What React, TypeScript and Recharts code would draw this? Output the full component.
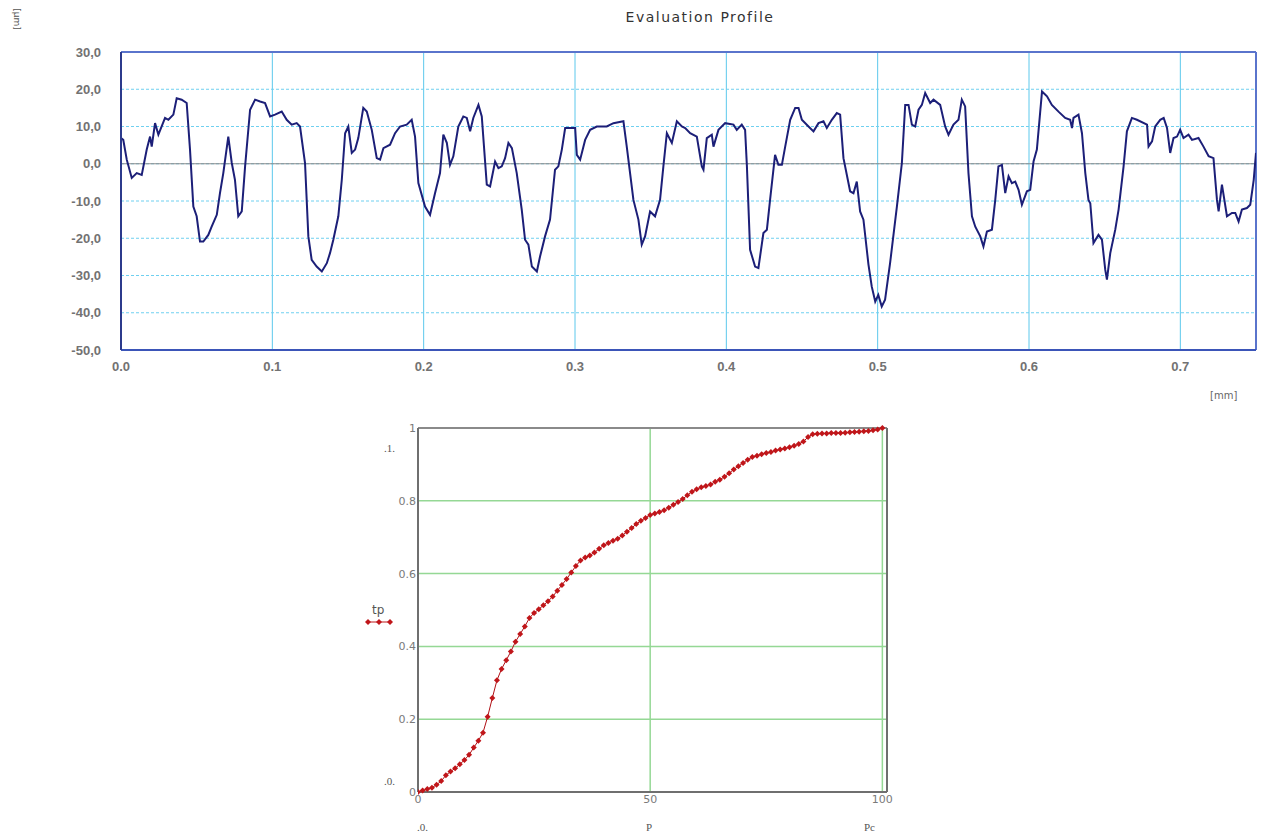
import { LineChart, Line, XAxis, YAxis, CartesianGrid, ReferenceLine } from "recharts";

// evaluation profile, x in mm, z in µm
const profileX = [
  0.0, 0.0015, 0.0038, 0.0071, 0.0104, 0.0137, 0.017, 0.0192, 0.0203, 0.0225, 0.0247, 0.0291, 0.0313, 0.0346,
  0.0368, 0.0401, 0.0434, 0.0456, 0.0478, 0.05, 0.0522, 0.0544, 0.0577, 0.0599, 0.0633, 0.0654, 0.0676, 0.0709,
  0.0732, 0.0753, 0.0775, 0.0798, 0.082, 0.0853, 0.0886, 0.0919, 0.0952, 0.0985, 0.1018, 0.1062, 0.1095, 0.1128,
  0.1161, 0.1183, 0.1216, 0.1238, 0.126, 0.1293, 0.1327, 0.136, 0.1381, 0.1403, 0.1436, 0.1459, 0.1481, 0.1502,
  0.1525, 0.1547, 0.1568, 0.1601, 0.1624, 0.1657, 0.169, 0.1712, 0.1734, 0.1778, 0.1811, 0.1844, 0.1888, 0.1921,
  0.1943, 0.1965, 0.2009, 0.2042, 0.2075, 0.2108, 0.213, 0.2153, 0.2174, 0.2196, 0.2229, 0.2262, 0.2285, 0.2307,
  0.2328, 0.2362, 0.2384, 0.2417, 0.2439, 0.2472, 0.2494, 0.2516, 0.2538, 0.256, 0.2583, 0.2615, 0.2648, 0.267,
  0.2692, 0.2715, 0.2748, 0.2769, 0.2802, 0.2835, 0.2868, 0.289, 0.2913, 0.2935, 0.2968, 0.3001, 0.3012, 0.3034,
  0.3067, 0.31, 0.3144, 0.321, 0.3254, 0.332, 0.3342, 0.3386, 0.3419, 0.3441, 0.3463, 0.3496, 0.3529, 0.3562,
  0.3584, 0.3607, 0.364, 0.3673, 0.3706, 0.3728, 0.3761, 0.3805, 0.3838, 0.3849, 0.3871, 0.3904, 0.3915, 0.3948,
  0.3992, 0.4047, 0.4069, 0.4102, 0.4124, 0.4136, 0.4157, 0.419, 0.4212, 0.4245, 0.4268, 0.4289, 0.4322, 0.4344,
  0.4367, 0.4389, 0.4422, 0.4455, 0.4477, 0.4499, 0.4543, 0.4576, 0.4609, 0.4642, 0.4664, 0.4697, 0.473, 0.4752,
  0.4774, 0.4818, 0.484, 0.4862, 0.4884, 0.4906, 0.4939, 0.4961, 0.4984, 0.5004, 0.5027, 0.5049, 0.5082, 0.5127,
  0.516, 0.5182, 0.5204, 0.5226, 0.5248, 0.527, 0.5292, 0.5314, 0.5347, 0.5369, 0.5413, 0.5446, 0.5468, 0.5501,
  0.5534, 0.5556, 0.5578, 0.56, 0.5623, 0.5645, 0.5678, 0.5699, 0.5722, 0.5755, 0.5777, 0.5798, 0.5821, 0.5843,
  0.5865, 0.5887, 0.5909, 0.5931, 0.5953, 0.5986, 0.6008, 0.603, 0.6052, 0.6086, 0.6119, 0.6151, 0.6195, 0.6239,
  0.6272, 0.6284, 0.6294, 0.6327, 0.635, 0.6372, 0.6393, 0.6405, 0.6426, 0.6459, 0.6482, 0.6504, 0.6515, 0.6537,
  0.657, 0.6592, 0.6625, 0.6647, 0.668, 0.6713, 0.678, 0.679, 0.6813, 0.6834, 0.6867, 0.689, 0.6912, 0.6933,
  0.6955, 0.6978, 0.6999, 0.7021, 0.7054, 0.7077, 0.712, 0.7153, 0.7187, 0.7219, 0.7242, 0.7253, 0.7275, 0.7308,
  0.7341, 0.7363, 0.7385, 0.7407, 0.744, 0.7462, 0.7485, 0.75,
];
const profileZ = [
  6.9, 6.4, 1.1, -3.8, -2.5, -3.0, 3.8, 7.3, 4.6, 10.9, 7.8, 12.3, 11.8, 13.2,
  17.6, 17.2, 16.3, 3.8, -11.5, -14.1, -20.9, -20.9, -19.1, -16.9, -13.7, -7.9, -2.5, 7.3,
  0.2, -4.3, -14.1, -12.8, -0.7, 14.5, 17.2, 16.7, 16.3, 12.7, 13.2, 14.0, 11.8, 10.5,
  10.9, 10.0, 0.2, -19.5, -25.8, -27.6, -28.9, -26.7, -24.0, -20.4, -14.1, -4.3, 8.2, 10.0,
  2.9, 3.8, 6.9, 15.0, 14.0, 9.1, 1.5, 1.1, 4.2, 5.1, 8.2, 10.0, 10.5, 11.8,
  7.3, -5.2, -11.5, -13.7, -7.9, -2.5, 7.8, 5.6, -0.3, 2.0, 10.0, 12.7, 12.3, 8.7,
  12.3, 15.8, 12.7, -5.6, -6.1, 0.6, -1.2, -0.7, 1.5, 5.6, 4.2, -2.5, -12.3, -20.4,
  -21.7, -27.6, -28.9, -24.9, -19.5, -15.0, -1.6, -0.7, 3.8, 9.6, 9.6, 9.6, 2.4, 1.1,
  6.4, 9.1, 10.0, 10.0, 10.9, 11.4, 4.6, -9.7, -15.0, -21.7, -19.5, -12.8, -14.1, -9.7,
  -0.7, 8.2, 5.6, 11.4, 10.0, 9.6, 8.2, 7.3, -0.7, -1.6, 6.9, 7.8, 4.6, 9.1,
  10.9, 10.5, 9.1, 10.5, 9.1, -0.7, -23.1, -27.6, -28.0, -18.6, -17.7, -9.7, 2.4, -0.3,
  -0.3, 4.6, 11.8, 15.0, 15.0, 11.8, 10.0, 8.7, 10.9, 11.4, 9.6, 11.8, 13.6, 13.2,
  1.5, -7.4, -7.9, -4.8, -12.8, -15.0, -27.0, -33.0, -37.0, -35.2, -38.3, -36.5, -26.7, -11.5,
  0.2, 15.8, 15.8, 10.5, 10.0, 14.5, 15.8, 19.0, 16.3, 17.2, 15.8, 10.0, 7.8, 10.5,
  11.8, 17.2, 15.4, -2.5, -14.1, -16.9, -19.5, -22.2, -18.2, -17.7, -9.7, -0.7, -0.3, -7.9,
  -3.4, -5.2, -4.8, -7.0, -11.0, -7.4, -7.0, 0.6, 3.8, 19.4, 18.1, 15.8, 14.0, 12.3,
  11.8, 9.6, 12.3, 13.2, 8.2, -2.5, -9.7, -10.6, -21.3, -19.1, -20.4, -28.5, -31.1, -24.0,
  -17.7, -12.3, -0.7, 8.7, 12.3, 11.8, 10.5, 4.6, 6.0, 10.0, 11.8, 12.3, 9.6, 2.9,
  6.9, 7.3, 9.1, 6.9, 7.8, 6.4, 6.9, 4.6, 2.0, 1.5, -9.7, -12.8, -5.6, -14.1,
  -13.2, -13.2, -15.5, -12.3, -11.9, -11.0, -4.3, 2.9,
];
const profileTicksX = [0, 0.1, 0.2, 0.3, 0.4, 0.5, 0.6, 0.7];
const profileTicksZ = [30, 20, 10, 0, -10, -20, -30, -40, -50];

// bearing ratio curve
const bearingP = [
  0, 1, 2, 3, 4, 5, 6, 7, 8, 9, 10, 11, 12, 13, 14, 15, 16, 17, 18, 19, 20, 21, 22, 23, 24, 25,
  26, 27, 28, 29, 30, 31, 32, 33, 34, 35, 36, 37, 38, 39, 40, 41, 42, 43, 44, 45, 46, 47, 48, 49, 50,
  51, 52, 53, 54, 55, 56, 57, 58, 59, 60, 61, 62, 63, 64, 65, 66, 67, 68, 69, 70, 71, 72, 73, 74, 75,
  76, 77, 78, 79, 80, 81, 82, 83, 84, 85, 86, 87, 88, 89, 90, 91, 92, 93, 94, 95, 96, 97, 98, 99, 100,
];
const bearingTp = [
  0.0, 0.004, 0.008, 0.012, 0.02, 0.03, 0.046, 0.056, 0.065, 0.076, 0.088, 0.102, 0.122, 0.141, 0.163,
  0.207, 0.258, 0.307, 0.338, 0.362, 0.386, 0.413, 0.434, 0.455, 0.478, 0.492, 0.502, 0.513, 0.524, 0.537,
  0.553, 0.569, 0.585, 0.603, 0.621, 0.636, 0.644, 0.65, 0.658, 0.668, 0.678, 0.684, 0.69, 0.696, 0.705,
  0.715, 0.725, 0.736, 0.745, 0.753, 0.761, 0.765, 0.769, 0.774, 0.781, 0.789, 0.797, 0.805, 0.815, 0.825,
  0.832, 0.837, 0.841, 0.845, 0.852, 0.858, 0.866, 0.876, 0.886, 0.895, 0.904, 0.913, 0.92, 0.924, 0.928,
  0.931, 0.934, 0.938, 0.941, 0.944, 0.947, 0.951, 0.956, 0.963, 0.975, 0.983, 0.984, 0.985, 0.985, 0.986,
  0.986, 0.986, 0.987, 0.988, 0.989, 0.99, 0.991, 0.992, 0.994, 0.996, 1.0,
];
const bearingTicksP = [0, 50, 100];
const bearingTicksTp = [0, 0.2, 0.4, 0.6, 0.8, 1];

const profileData = profileX.map((x, i) => ({ x, z: profileZ[i] }));
const bearingData = bearingP.map((p, i) => ({ p, tp: bearingTp[i] }));

const TICK_TOP = { fontSize: 13, fontWeight: "bold" as const, fill: "#727272", fontFamily: "Liberation Sans, Arial, sans-serif" };
const TICK_BOTTOM = { fontSize: 11, fill: "#7a7a7a", fontFamily: "DejaVu Sans, sans-serif" };

function DiamondDot(props: { cx?: number; cy?: number; [key: string]: unknown }) {
  const { cx, cy } = props;
  if (cx == null || cy == null) return null;
  return <path d={`M${cx},${cy - 3}L${cx + 3},${cy}L${cx},${cy + 3}L${cx - 3},${cy}Z`} fill="#c0161a" />;
}

// "tp" legend drawn beside the bearing chart
function TpLegend() {
  return (
    <div style={{ position: "absolute", left: 364, top: 604, fontFamily: "DejaVu Sans, sans-serif", fontSize: 12, color: "#555", lineHeight: "12px" }}>
      <div style={{ paddingLeft: 8 }}>tp</div>
      <svg width={32} height={8}>
        <line x1={2} y1={4} x2={28} y2={4} stroke="#c0161a" strokeWidth={1} />
        {[4, 15, 26].map((x) => (
          <path key={x} d={`M${x},1L${x + 3},4L${x},7L${x - 3},4Z`} fill="#c0161a" />
        ))}
      </svg>
    </div>
  );
}

const serif = { position: "absolute" as const, fontFamily: "Liberation Serif, serif", fontSize: 11, color: "#555" };

export default function App() {
  return (
    <div style={{ position: "absolute", left: 0, top: 0, width: 1261, height: 834, background: "#fff" }}>
      <div style={{ position: "absolute", left: 0, width: 1400, top: 9, textAlign: "center", fontFamily: "DejaVu Sans, sans-serif", fontSize: 14, letterSpacing: 1.5, color: "#333" }}>
        Evaluation Profile
      </div>
      <div style={{ position: "absolute", left: 6, top: 14, transform: "rotate(90deg)", fontFamily: "DejaVu Sans, sans-serif", fontSize: 9, color: "#555" }}>
        [µm]
      </div>
      <div style={{ position: "absolute", left: 1210, top: 390, fontFamily: "DejaVu Sans, sans-serif", fontSize: 10, color: "#666" }}>
        [mm]
      </div>

      <div style={{ position: "absolute", left: 0, top: 0 }}>
        <LineChart width={1261} height={400} data={profileData} margin={{ top: 52, right: 5, left: 0, bottom: 20 }}>
          <CartesianGrid horizontal={false} stroke="#5cc8ec" strokeWidth={1} />
          <CartesianGrid vertical={false} stroke="#6fd0f0" strokeDasharray="3 2" strokeWidth={1} />
          <XAxis
            dataKey="x"
            type="number"
            domain={[0, 0.75]}
            ticks={profileTicksX}
            tickFormatter={(v: number) => v.toFixed(1)}
            tick={TICK_TOP}
            tickSize={0}
            tickMargin={12}
            height={30}
            axisLine={{ stroke: "#3b55b8", strokeWidth: 2 }}
            allowDataOverflow
          />
          <YAxis
            type="number"
            domain={[-50, 30]}
            ticks={profileTicksZ}
            tickFormatter={(v: number) => v.toFixed(1).replace(".", ",")}
            tick={TICK_TOP}
            tickSize={0}
            tickMargin={20}
            width={121}
            axisLine={{ stroke: "#2c3a8c", strokeWidth: 2 }}
            allowDataOverflow
          />
          <ReferenceLine y={0} stroke="#8a8a8a" strokeWidth={1} />
          <ReferenceLine y={30} stroke="#5a74cc" strokeWidth={2} />
          <ReferenceLine x={0.75} stroke="#5a74cc" strokeWidth={2} />
          <Line type="linear" dataKey="z" stroke="#1c1f78" strokeWidth={2} dot={false} isAnimationActive={false} />
        </LineChart>
      </div>

      <div style={{ position: "absolute", left: 0, top: 400 }}>
        <LineChart width={1261} height={434} data={bearingData} margin={{ top: 28, right: 374, left: 368, bottom: 12 }}>
          <CartesianGrid stroke="#95d895" strokeWidth={1.5} />
          <XAxis
            dataKey="p"
            type="number"
            domain={[0, 101]}
            ticks={bearingTicksP}
            tick={TICK_BOTTOM}
            tickSize={0}
            tickMargin={3}
            height={30}
            axisLine={{ stroke: "#6f6f6f", strokeWidth: 2 }}
            allowDataOverflow
          />
          <YAxis
            type="number"
            domain={[0, 1]}
            ticks={bearingTicksTp}
            tick={TICK_BOTTOM}
            tickSize={0}
            tickMargin={2}
            width={50}
            axisLine={{ stroke: "#6f6f6f", strokeWidth: 2 }}
          />
          <ReferenceLine y={1} stroke="#8a8a8a" strokeWidth={2} />
          <ReferenceLine x={101} stroke="#6f6f6f" strokeWidth={2} />
          <Line
            type="linear"
            dataKey="tp"
            stroke="#b01015"
            strokeWidth={1}
            dot={<DiamondDot />}
            activeDot={false}
            isAnimationActive={false}
          />
        </LineChart>
      </div>

      <TpLegend />
      <div style={{ ...serif, left: 384, top: 442 }}>.1.</div>
      <div style={{ ...serif, left: 384, top: 775 }}>.0.</div>
      <div style={{ ...serif, left: 417, top: 821 }}>.0.</div>
      <div style={{ ...serif, left: 646, top: 821 }}>P</div>
      <div style={{ ...serif, left: 864, top: 821 }}>Pc</div>
    </div>
  );
}
